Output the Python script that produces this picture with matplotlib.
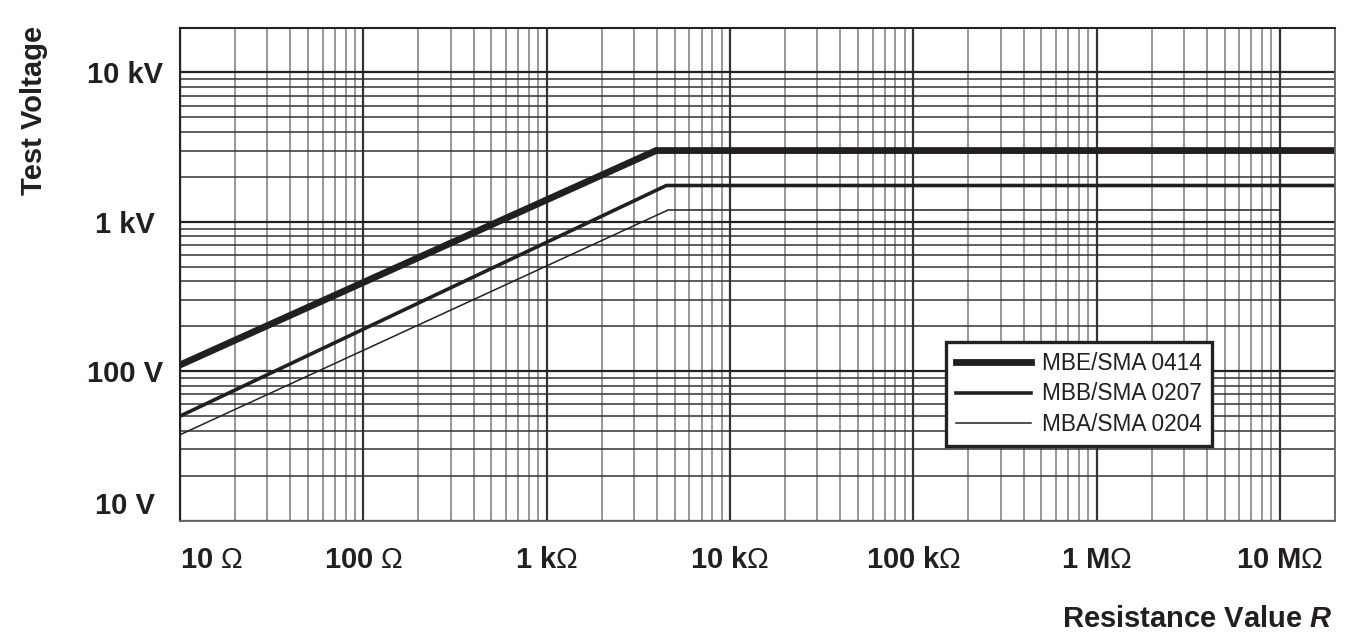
import numpy as np
import matplotlib
matplotlib.use('Agg')
import matplotlib.pyplot as plt
from matplotlib.ticker import LogLocator, NullFormatter

# data
r_0414 = [10, 3960, 2e7]
v_0414 = [110, 3000, 3000]
r_0207 = [10, 4500, 2e7]
v_0207 = [50, 1750, 1750]
r_0204 = [10, 4600, 1e7]
v_0204 = [37.5, 1200, 1200]

x_ticks = [10, 100, 1e3, 1e4, 1e5, 1e6, 1e7]
x_labels = ['10 $\\Omega$', '100 $\\Omega$', '1 k$\\Omega$', '10 k$\\Omega$',
            '100 k$\\Omega$', '1 M$\\Omega$', '10 M$\\Omega$']
y_ticks = [10, 100, 1000, 10000]
y_labels = ['10 V', '100 V', '1 kV', '10 kV']

ink = '#231f20'
plt.rcParams['font.family'] = ['Liberation Sans', 'DejaVu Sans']
plt.rcParams['mathtext.fontset'] = 'custom'
plt.rcParams['mathtext.rm'] = 'Liberation Sans'
plt.rcParams['mathtext.it'] = 'Liberation Sans:italic:bold'
plt.rcParams['mathtext.bf'] = 'Liberation Sans:bold'

fig = plt.figure(figsize=(13.58, 6.38), dpi=100)
ax = fig.add_axes([180/1358, 1 - 520.5/638, 1155/1358, 493/638])

ax.set_xscale('log')
ax.set_yscale('log')
ax.set_xlim(10, 2e7)
ax.set_ylim(10, 2e4)

ax.xaxis.set_minor_locator(LogLocator(base=10, subs=np.arange(2, 10), numticks=100))
ax.yaxis.set_minor_locator(LogLocator(base=10, subs=np.arange(2, 10), numticks=100))
ax.xaxis.set_minor_formatter(NullFormatter())
ax.yaxis.set_minor_formatter(NullFormatter())

ax.grid(True, axis='x', which='minor', color='#7a7a7a', lw=1.1)
ax.grid(True, axis='y', which='minor', color='#333333', lw=1.1)
ax.grid(True, axis='x', which='major', color='#333333', lw=1.6)
ax.grid(True, axis='y', which='major', color='#222222', lw=1.6)
ax.set_axisbelow(True)

ax.plot(r_0414, v_0414, color=ink, lw=4.9, label='MBE/SMA 0414', solid_joinstyle='miter')
ax.plot(r_0207, v_0207, color=ink, lw=2.6, label='MBB/SMA 0207', solid_joinstyle='miter')
ax.plot(r_0204, v_0204, color=ink, lw=1.1, label='MBA/SMA 0204', solid_joinstyle='miter')

ax.set_xticks(x_ticks, x_labels)
ax.set_yticks(y_ticks, y_labels)
ax.tick_params(which='both', length=0)
ax.tick_params(axis='x', pad=18.5, labelsize=21, labelcolor=ink)
ax.tick_params(axis='y', pad=39.5, labelsize=21, labelcolor=ink)
for lab in ax.get_xticklabels() + ax.get_yticklabels():
    lab.set_fontweight('bold')
for lab in ax.get_yticklabels():
    lab.set_ha('center')
ax.get_xticklabels()[0].set_ha('left')
ax.get_yticklabels()[0].set_va('bottom')

for side in ['left', 'top']:
    ax.spines[side].set_color('#222222')
    ax.spines[side].set_linewidth(1.5)
for side in ['right', 'bottom']:
    ax.spines[side].set_color('#666666')
    ax.spines[side].set_linewidth(1.3)

ax.set_ylabel('Test Voltage', fontsize=21, fontweight='bold', color=ink,
              ha='center', va='center')
ax.yaxis.set_label_coords(-0.1268, 0.8327)
ax.set_xlabel('Resistance Value $\\it{R}$', fontsize=21, fontweight='bold', color=ink,
              ha='right', va='baseline')
ax.xaxis.set_label_coords(0.998, -0.216)

leg = ax.legend(loc='upper left', bbox_to_anchor=(0.6632, 0.362), borderaxespad=0,
                fontsize=16.3, handlelength=3.3, handletextpad=0.5, labelspacing=0.32,
                borderpad=0.45, fancybox=False, framealpha=1, edgecolor='#222222')
leg.get_frame().set_linewidth(2.4)
for t in leg.get_texts():
    t.set_color(ink)

fig.savefig('out.png', dpi=100)
